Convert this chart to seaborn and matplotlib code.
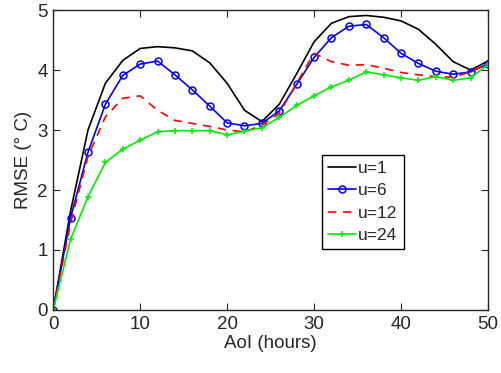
import numpy as np
import pandas as pd
import matplotlib
matplotlib.use("Agg")
import matplotlib.pyplot as plt
import seaborn as sns

# AoI in hours, one value every 2 hours
aoi = list(range(0, 52, 2))

# RMSE values
rmse_u1 = [0, 1.65, 3.0, 3.78, 4.16, 4.36, 4.39, 4.37, 4.32, 4.12, 3.78, 3.33, 3.14,
           3.43, 3.94, 4.47, 4.78, 4.89, 4.91, 4.88, 4.82, 4.68, 4.43, 4.14, 4.0, 4.15]
rmse_u6 = [0, 1.54, 2.63, 3.43, 3.91, 4.10, 4.15, 3.92, 3.67, 3.40, 3.12, 3.07, 3.11,
           3.32, 3.76, 4.21, 4.54, 4.73, 4.76, 4.54, 4.28, 4.11, 3.98, 3.93, 3.97, 4.10]
rmse_u12 = [0, 1.45, 2.56, 3.22, 3.53, 3.57, 3.33, 3.16, 3.11, 3.06, 3.0, 2.97, 3.08,
            3.28, 3.78, 4.28, 4.14, 4.08, 4.09, 4.03, 3.96, 3.92, 3.89, 3.88, 3.97, 4.11]
rmse_u24 = [0, 1.18, 1.89, 2.46, 2.68, 2.83, 2.97, 2.99, 2.99, 2.99, 2.92, 2.98, 3.04,
            3.21, 3.41, 3.57, 3.72, 3.83, 3.97, 3.92, 3.87, 3.83, 3.89, 3.83, 3.87, 4.09]

labels = ["u=1", "u=6", "u=12", "u=24"]
series = [rmse_u1, rmse_u6, rmse_u12, rmse_u24]

sns.set_theme(style="ticks")
plt.rcParams["font.family"] = ["Liberation Sans", "DejaVu Sans"]

fig = plt.figure(figsize=(5.02, 3.73), dpi=100)
ax = fig.add_axes([0.106, 0.169, 0.866, 0.804])

# line styles per series (MATLAB look)
styles = {
    "u=1": dict(color="black", ls="-", marker="None", ms=0),
    "u=6": dict(color="blue", ls="-", marker="o", ms=5),
    "u=12": dict(color="red", ls=(0, (5, 4)), marker="None", ms=0),
    "u=24": dict(color="#00ee00", ls="-", marker="+", ms=5),
}

for lab, vals in zip(labels, series):
    df = pd.DataFrame({"AoI": aoi, "RMSE": vals})
    st = styles[lab]
    sns.lineplot(data=df, x="AoI", y="RMSE", ax=ax, label=lab,
                 color=st["color"], linewidth=1.2)
    line = ax.lines[-1]
    line.set_linestyle(st["ls"])
    line.set_marker(st["marker"])
    line.set_markersize(st["ms"])
    line.set_markerfacecolor("none")
    line.set_markeredgecolor(st["color"])
    line.set_markeredgewidth(1.1)

ax.set_xlim(0, 50)
ax.set_ylim(0, 5)
ax.set_xticks([0, 10, 20, 30, 40, 50])
ax.set_yticks([0, 1, 2, 3, 4, 5])
ax.tick_params(direction="in", top=True, right=True, labelsize=13.5, length=5,
               width=0.8, colors="#262626", pad=4)
for sp in ax.spines.values():
    sp.set_linewidth(1.0)
    sp.set_color("#262626")
ax.set_xlabel("AoI (hours)", fontsize=13.5, labelpad=2)
ax.set_ylabel("RMSE (° C)", fontsize=13.5, labelpad=4)

leg = ax.legend(loc="upper left", bbox_to_anchor=(0.618, 0.518), fontsize=12.5,
                fancybox=False, edgecolor="black", framealpha=1,
                handlelength=1.6, handletextpad=0.15, borderpad=0.35,
                labelspacing=0.42, borderaxespad=0)
leg.get_frame().set_linewidth(1.0)

fig.savefig("out.png", dpi=100)
